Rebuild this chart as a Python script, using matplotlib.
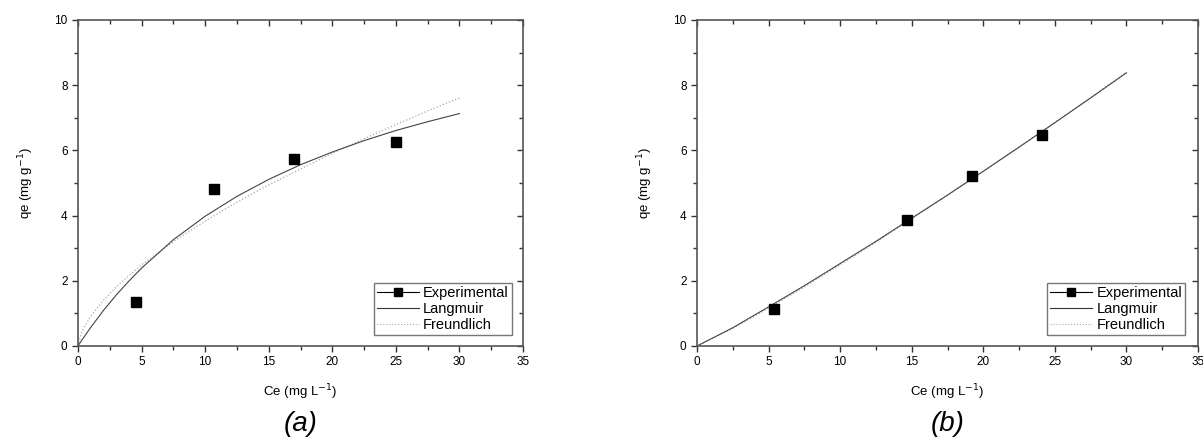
import matplotlib
matplotlib.use("Agg")
import matplotlib.pyplot as plt
from matplotlib.lines import Line2D
from matplotlib.ticker import MultipleLocator

plt.rcParams['font.family'] = ['Liberation Sans', 'DejaVu Sans']

# === DATA ===
# (a)
ce_exp_a = [4.6, 10.7, 17.0, 25.0]
qe_exp_a = [1.35, 4.83, 5.75, 6.27]
ce_fit_a = [0, 0.25, 0.5, 1, 2, 3, 4, 5, 7.5, 10, 12.5, 15, 17.5, 20, 22.5, 25, 27.5, 30]
lang_a = [0, 0.15, 0.29, 0.57, 1.09, 1.56, 1.99, 2.39, 3.26, 3.98, 4.59, 5.11, 5.56, 5.95, 6.30, 6.61, 6.88, 7.13]
freu_a = [0, 0.38, 0.59, 0.91, 1.40, 1.81, 2.16, 2.49, 3.20, 3.83, 4.41, 4.94, 5.43, 5.91, 6.36, 6.79, 7.21, 7.61]

# (b)
ce_exp_b = [5.4, 14.7, 19.2, 24.1]
qe_exp_b = [1.15, 3.85, 5.2, 6.48]
ce_fit_b = [0, 2.5, 5, 7.5, 10, 12.5, 15, 17.5, 20, 22.5, 25, 27.5, 30]
lang_b = [0, 0.56, 1.20, 1.85, 2.53, 3.21, 3.92, 4.63, 5.36, 6.10, 6.85, 7.61, 8.38]
freu_b = [0, 0.54, 1.16, 1.81, 2.49, 3.18, 3.90, 4.62, 5.36, 6.10, 6.86, 7.62, 8.40]

fig = plt.figure(figsize=(12.03, 4.41), dpi=100)
W, H = 1203, 441


def setup(ax, label):
    ax.set_xlim(0, 35)
    ax.set_ylim(0, 10)
    ax.xaxis.set_major_locator(MultipleLocator(5))
    ax.xaxis.set_minor_locator(MultipleLocator(2.5))
    ax.yaxis.set_major_locator(MultipleLocator(2))
    ax.yaxis.set_minor_locator(MultipleLocator(1))
    ax.tick_params(which='both', direction='out', top=False, right=False,
                   labelsize=8.5, width=1, color='#333333')
    ax.tick_params(which='major', length=4)
    ax.tick_params(which='minor', length=3)
    for s in ax.spines.values():
        s.set_linewidth(1.2)
        s.set_color('#555555')
    # top / right ticks point inward
    for side in ('top', 'right'):
        sec = ax.secondary_xaxis('top') if side == 'top' else ax.secondary_yaxis('right')
        sec_axis = sec.xaxis if side == 'top' else sec.yaxis
        sec_axis.set_major_locator(MultipleLocator(5 if side == 'top' else 2))
        sec_axis.set_minor_locator(MultipleLocator(2.5 if side == 'top' else 1))
        sec.tick_params(which='both', direction='in', labelsize=0, width=1, color='#333333')
        sec.tick_params(which='major', length=4)
        sec.tick_params(which='minor', length=3)
        sec_axis.set_ticklabels([])
        sec.spines[side].set_visible(False)
    ax.set_xlabel('Ce (mg L$^{-1}$)', fontsize=9.5, labelpad=10)
    ax.set_ylabel('qe (mg g$^{-1}$)', fontsize=9.5, labelpad=13)
    ax.text(0.5, -0.2, label, transform=ax.transAxes, ha='center', va='top',
            fontsize=20, style='italic')


def legend(ax):
    handles = [
        Line2D([], [], color='black', lw=0.8, marker='s', markersize=5.5),
        Line2D([], [], color='#333333', lw=0.8),
        Line2D([], [], color='#aaaaaa', lw=0.8, ls=':'),
    ]
    ax.legend(handles, ['Experimental', 'Langmuir', 'Freundlich'],
              loc='lower right', bbox_to_anchor=(0.975, 0.035), fontsize=10.5,
              frameon=True, fancybox=False, edgecolor='#555555',
              borderpad=0.2, labelspacing=0.12, handlelength=2.9,
              handletextpad=0.3, borderaxespad=0)


# --- (a) ---
ax1 = fig.add_axes([78 / W, (H - 346) / H, 445 / W, 326 / H])
ax1.plot(ce_fit_a, freu_a, color='#aaaaaa', lw=0.9, ls=':')
ax1.plot(ce_fit_a, lang_a, color='#444444', lw=0.8)
ax1.plot(ce_exp_a, qe_exp_a, ls='none', marker='s', color='black', markersize=6.5)
setup(ax1, '(a)')
legend(ax1)

# --- (b) ---
ax2 = fig.add_axes([697 / W, (H - 346) / H, 501 / W, 326 / H])
ax2.plot(ce_fit_b, freu_b, color='#aaaaaa', lw=0.9, ls=':')
ax2.plot(ce_fit_b, lang_b, color='#444444', lw=0.8)
ax2.plot(ce_exp_b, qe_exp_b, ls='none', marker='s', color='black', markersize=6.5)
setup(ax2, '(b)')
legend(ax2)

fig.savefig('out.png', dpi=100)
